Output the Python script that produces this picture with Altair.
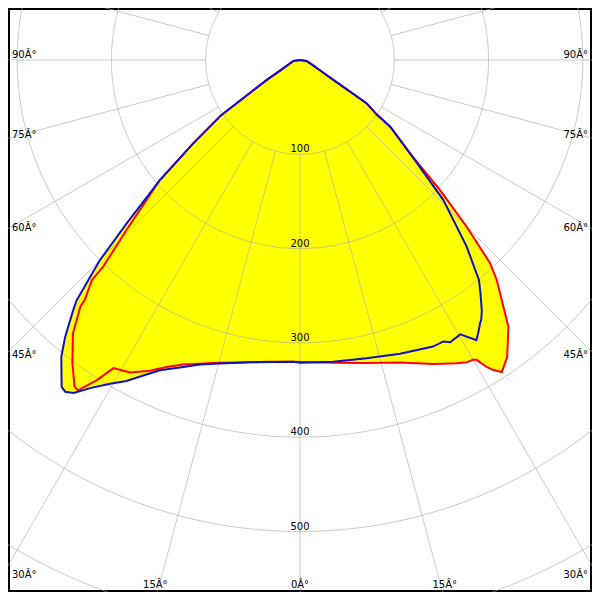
import altair as alt
import numpy as np
import pandas as pd

# ---- data (angle in degrees, left side negative; intensity in cd) ----
blue_angle = [-90, -81.5, -66.8, -61.9, -59.0, -55.0, -52.0, -49.4, -46.7, -45.0, -42.9, -42.2, -40.3, -38.8,
              -36.1, -35.3, -34.2, -32.6, -30.4, -28.4, -26.8, -24.3, -21.3, -18.2, -14.8, -9.4, -1.3,
              0.0, 6.3, 12.6, 18.8, 24.9, 27.0, 28.0, 30.3, 32.2, 33.1, 34.4, 34.9, 36.0, 37.7, 39.1,
              41.8, 45.7, 49.7, 53.5, 54.5, 57.0, 59.0, 61.9, 66.8, 81.5, 90]
blue_cd = [0, 7, 15, 24, 41, 102, 144, 196, 252, 300, 348, 358, 385, 404,
           429, 431, 427, 413, 398, 387, 376, 361, 350, 340, 333, 325, 320,
           321, 322, 324, 329, 335, 335, 339, 337, 351, 346, 338, 336, 328, 313, 301,
           265, 212, 153, 119, 101, 84, 43, 26, 16, 7, 0]

red_angle = [-90, -81.5, -66.8, -61.9, -59.0, -55.0, -52.0, -49.4, -45.6, -43.6, -43.4, -41.9, -41.7, -39.7,
             -36.9, -34.6, -33.9, -32.4, -31.2, -30.2, -28.5, -25.8, -23.5, -21.0, -18.2, -15.4,
             -11.2, -6.3, -1.3, 6.3, 12.4, 18.3, 23.7, 27.3, 28.9, 30.0, 30.5, 31.3, 31.9, 32.9,
             34.9, 38.0, 40.0, 41.8, 43.1, 45.0, 47.1, 49.7, 53.5, 54.5, 57.0, 59.0, 61.9, 66.8, 81.5, 90]
red_cd = [0, 7, 15, 24, 41, 102, 144, 196, 257, 303, 321, 342, 350, 377,
          402, 421, 422, 402, 382, 380, 377, 366, 355, 346, 339, 333,
          327, 322, 320, 323, 329, 338, 352, 362, 366, 367, 369, 381, 387, 394,
          384, 359, 333, 313, 295, 250, 203, 153, 119, 101, 84, 43, 26, 16, 7, 0]

ring_values = [100, 200, 300, 400, 500, 600]
ring_labels = ["100", "200", "300", "400", "500"]
spoke_step = 15

left_label_angles = [90, 75, 60, 45, 30]
bottom_label_angles = [-15, 0, 15]
right_label_angles = [30, 45, 60, 75, 90]

# ---- layout (reference pixel geometry) ----
K = 0.943            # pixels per candela
CX, CY = 300, 60     # pole position in the reference picture
X0, X1 = 8, 592      # visible window of the reference
xdom = [(X0 - CX) / K, (X1 - CX) / K]
ydom = [(X0 - CY) / K, (X1 - CY) / K]


def curve_df(angles, cds):
    a = np.radians(np.array(angles, dtype=float))
    r = np.array(cds, dtype=float)
    return pd.DataFrame({"i": np.arange(len(a)), "x": r * np.sin(a), "y": r * np.cos(a)})


blue_df = curve_df(blue_angle, blue_cd)
red_df = curve_df(red_angle, red_cd)

phi = np.radians(np.arange(0, 361, 2))
ring_rows = []
for rv in ring_values:
    for j, p in enumerate(phi):
        ring_rows.append({"ring": rv, "i": j, "x": rv * np.sin(p), "y": rv * np.cos(p)})
ring_df = pd.DataFrame(ring_rows)

sp = np.radians(np.arange(0, 360, spoke_step))
spoke_df = pd.DataFrame({
    "x": 100 * np.sin(sp), "y": 100 * np.cos(sp),
    "x2": 1200 * np.sin(sp), "y2": 1200 * np.cos(sp),
})

ring_lab_df = pd.DataFrame({"x": [0] * len(ring_labels),
                            "y": [float(v) for v in ring_labels],
                            "t": ring_labels})

# side labels where each ray leaves the reference picture
edge_x = CX / K
left_df = pd.DataFrame({
    "x": [xdom[0]] * len(left_label_angles),
    "y": [0.0 if a == 90 else edge_x / np.tan(np.radians(a)) for a in left_label_angles],
    "t": [f"{a}Â°" for a in left_label_angles],
})
right_df = pd.DataFrame({
    "x": [xdom[1]] * len(right_label_angles),
    "y": [0.0 if a == 90 else edge_x / np.tan(np.radians(a)) for a in right_label_angles],
    "t": [f"{a}Â°" for a in right_label_angles],
})
edge_y = (600 - CY) / K
bottom_df = pd.DataFrame({
    "x": [edge_y * np.tan(np.radians(a)) for a in bottom_label_angles],
    "y": [ydom[1]] * len(bottom_label_angles),
    "t": [f"{abs(a)}Â°" for a in bottom_label_angles],
})

X = alt.X("x:Q", scale=alt.Scale(domain=xdom, nice=False, zero=False), axis=None)
Y = alt.Y("y:Q", scale=alt.Scale(domain=ydom, nice=False, zero=False, reverse=True), axis=None)

fill_blue = alt.Chart(blue_df).mark_line(filled=True, color="#ffff00", strokeWidth=0).encode(
    x=X, y=Y, order="i:Q")
fill_red = alt.Chart(red_df).mark_line(filled=True, color="#ffff00", strokeWidth=0).encode(
    x=X, y=Y, order="i:Q")

rings = alt.Chart(ring_df).mark_line(color="#a8a8a8", opacity=0.6, strokeWidth=1, clip=True).encode(
    x=X, y=Y, detail="ring:N", order="i:Q")
spokes = alt.Chart(spoke_df).mark_rule(color="#a8a8a8", opacity=0.6, strokeWidth=1, clip=True).encode(
    x=X, y=Y, x2="x2:Q", y2="y2:Q")

txt = dict(font="DejaVu Sans", fontSize=10, color="black", baseline="alphabetic")
ring_text = alt.Chart(ring_lab_df).mark_text(align="center", dy=-2, **txt).encode(x=X, y=Y, text="t:N")
left_text = alt.Chart(left_df).mark_text(align="left", dx=4, dy=-2, **txt).encode(x=X, y=Y, text="t:N")
right_text = alt.Chart(right_df).mark_text(align="right", dx=-4, dy=-2, **txt).encode(x=X, y=Y, text="t:N")
bottom_text = alt.Chart(bottom_df).mark_text(align="center", dy=-4, **txt).encode(x=X, y=Y, text="t:N")

red_line = alt.Chart(red_df).mark_line(color="#ff0000", strokeWidth=2).encode(x=X, y=Y, order="i:Q")
blue_line = alt.Chart(blue_df).mark_line(color="#1010c8", strokeWidth=2).encode(x=X, y=Y, order="i:Q")

chart = alt.layer(
    fill_blue, fill_red, rings, spokes, ring_text, left_text, right_text, bottom_text,
    red_line, blue_line,
).properties(
    width=584, height=584, padding=0, autosize="none", background="white",
).configure_view(stroke="black", strokeWidth=4)

chart.save("out.html", embed_options={"renderer": "svg", "actions": False})
